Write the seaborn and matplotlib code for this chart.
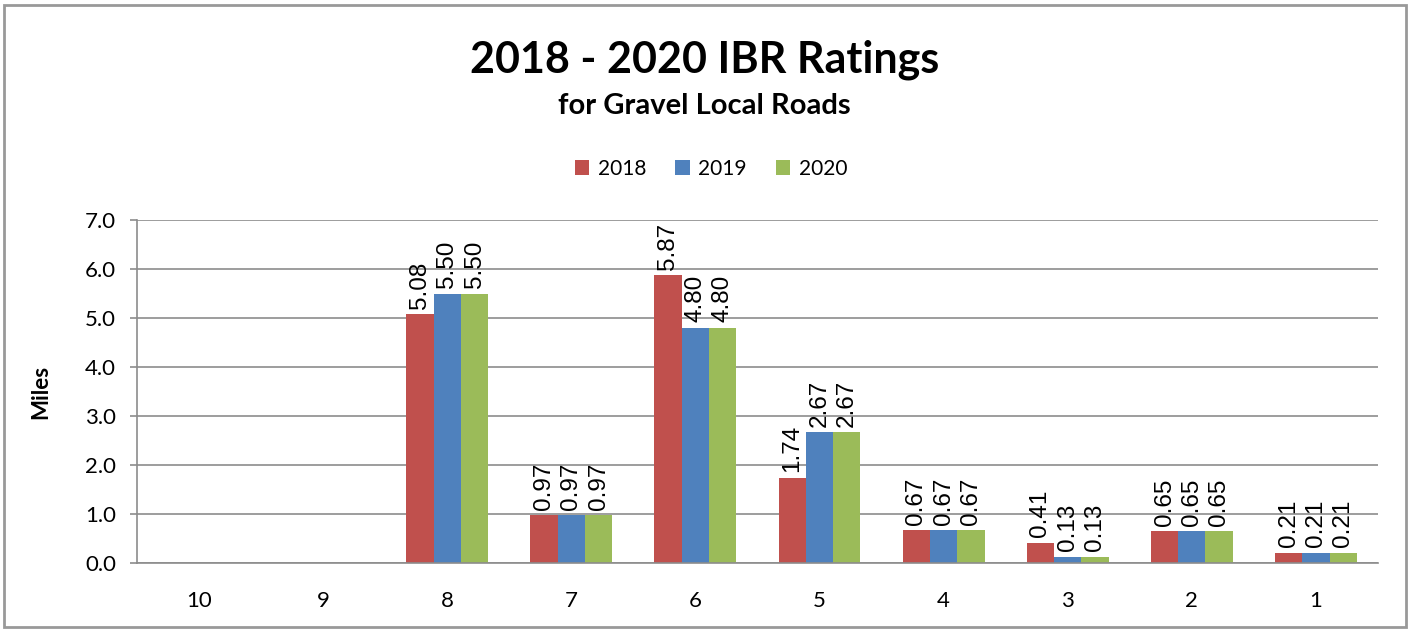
import seaborn as sns
import matplotlib.pyplot as plt
import pandas as pd
from matplotlib.patches import Rectangle

ratings = ['10', '9', '8', '7', '6', '5', '4', '3', '2', '1']
miles_2018 = [0, 0, 5.08, 0.97, 5.87, 1.74, 0.67, 0.41, 0.65, 0.21]
miles_2019 = [0, 0, 5.50, 0.97, 4.80, 2.67, 0.67, 0.13, 0.65, 0.21]
miles_2020 = [0, 0, 5.50, 0.97, 4.80, 2.67, 0.67, 0.13, 0.65, 0.21]
years = ['2018', '2019', '2020']
colors = ['#C0504D', '#4F81BD', '#9BBB59']

df = pd.DataFrame({'Rating': ratings, '2018': miles_2018, '2019': miles_2019, '2020': miles_2020})
long = df.melt(id_vars='Rating', value_vars=years, var_name='Year', value_name='Miles')

sns.set_style('white')
plt.rcParams['font.family'] = ['Lato', 'DejaVu Sans']
plt.rcParams['text.color'] = 'black'
plt.rcParams['xtick.color'] = 'black'
plt.rcParams['ytick.color'] = 'black'
plt.rcParams['axes.labelcolor'] = 'black'

fig = plt.figure(figsize=(14.09, 6.29), dpi=100)
ax = fig.add_axes([0.0972, 0.1049, 0.8808, 0.5453])

sns.barplot(data=long, x='Rating', y='Miles', hue='Year', order=ratings, hue_order=years,
            palette=colors, width=0.66, saturation=1, edgecolor='none', ax=ax)

for cont in ax.containers:
    labels = [f'{b.get_height():.2f}' if b.get_height() > 0 else '' for b in cont]
    ax.bar_label(cont, labels=labels, rotation=90, padding=4, fontsize=17.5,
                 family=['Liberation Sans', 'DejaVu Sans'])

ax.set_ylim(0, 7)
ax.set_yticks([0, 1, 2, 3, 4, 5, 6, 7])
ax.set_yticklabels([f'{v:.1f}' for v in range(8)], fontsize=16)
ax.tick_params(axis='x', labelsize=16, length=0, pad=20)
ax.tick_params(axis='y', length=5, color='#8c8c8c', width=1.2, left=True, pad=10)
ax.yaxis.grid(True, color='#8c8c8c', linewidth=1.2)
ax.set_axisbelow(True)
for s in ['top', 'right']:
    ax.spines[s].set_visible(False)
for s in ['left', 'bottom']:
    ax.spines[s].set_color('#8c8c8c')
    ax.spines[s].set_linewidth(1.2)

ax.set_xlabel('')
ax.set_ylabel('Miles', fontsize=16, fontweight='bold', labelpad=24)

ax.legend(loc='lower center', bbox_to_anchor=(0.4625, 1.065), ncol=3, frameon=False,
          fontsize=15, handlelength=0.7, handleheight=0.7, handletextpad=0.4, columnspacing=1.4)

fig.text(0.5, 0.905, '2018 - 2020 IBR Ratings', ha='center', va='center', fontsize=31, fontweight='bold')
fig.text(0.5, 0.831, 'for Gravel Local Roads', ha='center', va='center', fontsize=21, fontweight='bold')

fig.patches.append(Rectangle((4 / 1409, 2 / 629), 1402 / 1409, 622 / 629, transform=fig.transFigure,
                             fill=False, edgecolor='#999999', linewidth=2))

fig.savefig('out.png', dpi=100)
